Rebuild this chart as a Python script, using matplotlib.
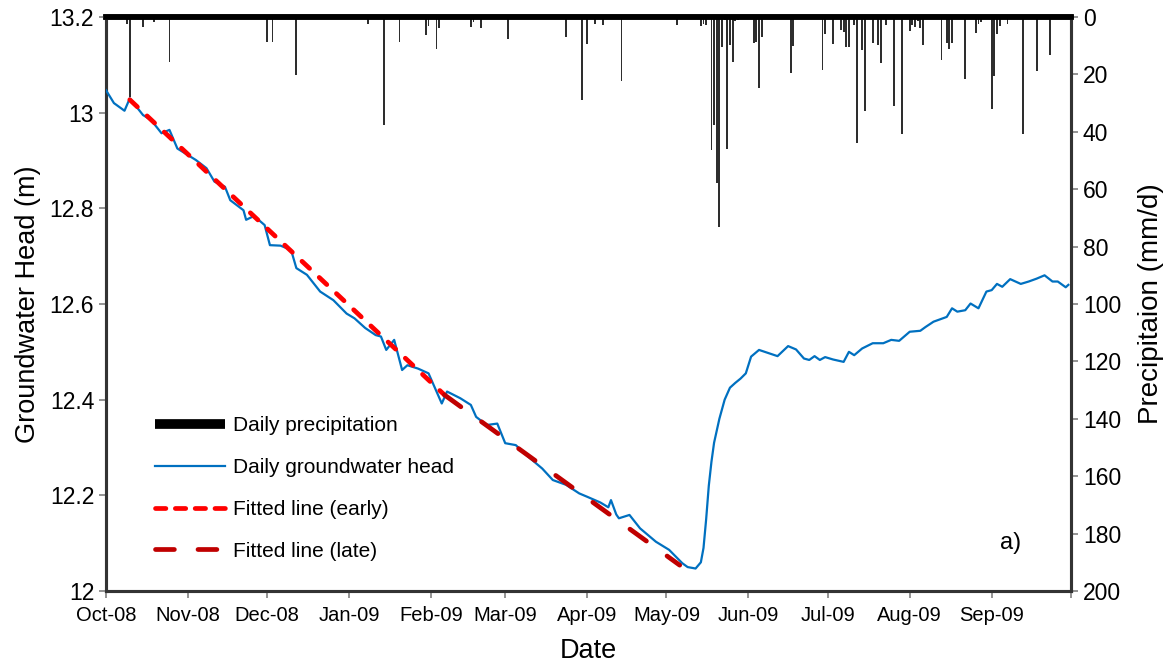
import numpy as np
import pandas as pd
import matplotlib
matplotlib.use("Agg")
import matplotlib.pyplot as plt
from matplotlib.lines import Line2D

plt.rcParams['font.family'] = ['Liberation Sans', 'DejaVu Sans']

START = pd.Timestamp('2008-10-01')

# groundwater head (days after 2008-10-01, metres)
head_day = [0, 3, 7, 9, 14, 17, 21, 24, 27, 34, 38, 41, 45, 47, 52, 53, 56, 60,
            62, 66, 70, 72, 76, 81, 86, 91, 94, 98, 102, 104, 106, 109, 112,
            114, 118, 122, 127, 129, 134, 138, 140, 144, 148, 151, 155, 159,
            165, 169, 174, 179, 182, 187, 190, 191, 193, 194, 198, 202, 208,
            213, 218, 220, 223, 225, 226, 227, 228, 229, 230, 232, 234, 236,
            238, 240, 242, 244, 247, 254, 258, 261, 264, 266, 268, 270, 272,
            275, 279, 281, 283, 286, 290, 294, 297, 300, 304, 308, 310, 313,
            318, 320, 322, 325, 327, 330, 333, 335, 337, 339, 342, 346, 349,
            352, 355, 358, 360, 363, 364]
head_m = [13.047, 13.02, 13.004, 13.03, 12.995, 12.985, 12.957, 12.964, 12.925,
          12.901, 12.884, 12.856, 12.845, 12.817, 12.796, 12.776, 12.784,
          12.765, 12.723, 12.722, 12.713, 12.675, 12.661, 12.626, 12.608,
          12.58, 12.57, 12.55, 12.535, 12.532, 12.504, 12.525, 12.462, 12.472,
          12.465, 12.455, 12.392, 12.417, 12.403, 12.389, 12.364, 12.347,
          12.35, 12.309, 12.305, 12.284, 12.256, 12.232, 12.222, 12.204,
          12.197, 12.185, 12.175, 12.19, 12.16, 12.152, 12.159, 12.131,
          12.103, 12.086, 12.058, 12.05, 12.047, 12.06, 12.09, 12.15, 12.22,
          12.27, 12.31, 12.36, 12.40, 12.425, 12.435, 12.444, 12.455, 12.49,
          12.504, 12.491, 12.512, 12.505, 12.486, 12.483, 12.491, 12.483,
          12.489, 12.484, 12.479, 12.5, 12.493, 12.507, 12.518, 12.518,
          12.525, 12.523, 12.542, 12.544, 12.552, 12.563, 12.573, 12.591,
          12.584, 12.587, 12.601, 12.591, 12.626, 12.629, 12.642, 12.636,
          12.652, 12.642, 12.647, 12.653, 12.66, 12.647, 12.647, 12.635, 12.64]

# daily precipitation (days after 2008-10-01, mm/d)
rain_day = [8, 9, 10, 14, 18, 24, 25, 61, 63, 67, 72, 99, 105, 111, 121, 122,
            125, 126, 138, 139, 142, 152, 174, 180, 182, 185, 188, 195, 216,
            225, 226, 227, 229, 230, 231, 232, 233, 234, 235, 236, 237, 238,
            239, 245, 246, 247, 248, 256, 259, 260, 271, 272, 275, 278, 279,
            280, 281, 283, 284, 285, 286, 287, 290, 292, 293, 295, 298, 301,
            304, 305, 306, 307, 308, 309, 316, 318, 319, 320, 325, 329, 330,
            331, 335, 336, 337, 338, 341, 347, 352, 357, 361]
rain_mm = [2.4, 28, 0.8, 3.6, 1.6, 15.6, 0.8, 8.8, 8.8, 0.5, 20.2, 2.4, 37.6,
           8.8, 6.3, 3.1, 11.3, 4, 3.4, 1.6, 3.7, 7.5, 6.9, 28.9, 9.5, 2.4,
           2.7, 22.2, 2.8, 3.1, 2.3, 2.8, 46.3, 37.6, 58, 73, 10.6, 1, 46.1,
           9.8, 15.6, 1.4, 1, 8.9, 8.6, 24.6, 6.9, 0.5, 19.4, 10, 18.5, 6,
           9.5, 4.5, 5.1, 10.3, 10.3, 2.8, 44, 0.5, 11.5, 32.6, 8.9, 9.8,
           16.1, 2.8, 30.9, 40.9, 4.9, 2.8, 3.4, 1.4, 3.7, 9.8, 15, 8.9, 11.3,
           8.9, 21.6, 5.5, 2.4, 1.6, 32.2, 20.4, 6, 3.1, 2.3, 40.9, 18.7,
           13.2, 0.5]

# fitted recession lines (end points)
fit_early_day = [9, 128]
fit_early_m = [13.027, 12.41]
fit_late_day = [128, 217]
fit_late_m = [12.41, 12.054]

month_labels = ['Oct-08', 'Nov-08', 'Dec-08', 'Jan-09', 'Feb-09', 'Mar-09',
                'Apr-09', 'May-09', 'Jun-09', 'Jul-09', 'Aug-09', 'Sep-09', '']


def to_dates(days):
    return START + pd.to_timedelta(days, unit='D')


fig = plt.figure(figsize=(11.66, 6.66), dpi=100)
ax = fig.add_axes([106 / 1166, 75 / 666, 965 / 1166, 574 / 666])
ax2 = ax.twinx()

# precipitation hanging from the top
ax2.bar(to_dates(rain_day), rain_mm, width=0.7, color='#2e2e2e',
        align='center', zorder=2)
ax2.set_ylim(200, 0)
ax2.set_yticks(np.arange(0, 201, 20))

ax.set_zorder(ax2.get_zorder() + 1)
ax.patch.set_visible(False)

ax.plot(to_dates(head_day), head_m, color='#0070C0', lw=1.6, zorder=3)
ax.plot(to_dates(fit_early_day), fit_early_m, color='#FF0000', lw=3.4,
        dashes=(2.2, 2.8), dash_capstyle='round', zorder=4)
ax.plot(to_dates(fit_late_day), fit_late_m, color='#C00000', lw=3.4,
        dashes=(4.3, 5.4), dash_capstyle='round', zorder=4)

ax.set_ylim(12, 13.2)
ax.set_yticks(np.arange(12, 13.21, 0.2))
ax.set_yticklabels(['12', '12.2', '12.4', '12.6', '12.8', '13', '13.2'])
ax.set_xlim(START, pd.Timestamp('2009-10-01'))
ticks = pd.date_range('2008-10-01', '2009-10-01', freq='MS')
ax.set_xticks(ticks)
ax.set_xticklabels(month_labels)

for a in (ax, ax2):
    a.tick_params(length=5, width=1.2, color='#808080', direction='out')
    a.tick_params(axis='y', labelsize=16.5)
    for s in a.spines.values():
        s.set_color('#333333')
        s.set_linewidth(2.2)
    a.spines['top'].set_color('black')
    a.spines['top'].set_linewidth(4)
ax.tick_params(axis='x', labelsize=14.5, pad=6)

ax.set_xlabel('Date', fontsize=19.5, labelpad=9)
ax.set_ylabel('Groundwater Head (m)', fontsize=19.5, labelpad=6)
ax2.set_ylabel('Precipitaion (mm/d)', fontsize=20, labelpad=12)

ax.text(1000, 666 - 543, 'a)', transform=None, fontsize=17, va='center')

handles = [
    Line2D([], [], color='black', lw=7, solid_capstyle='butt'),
    Line2D([], [], color='#0070C0', lw=1.6),
    Line2D([], [], color='#FF0000', lw=3.4, dashes=(2.2, 2.0),
           dash_capstyle='round'),
    Line2D([], [], color='#C00000', lw=3.4, dashes=(4.0, 5.0),
           dash_capstyle='round'),
]
labels = ['Daily precipitation', 'Daily groundwater head',
          'Fitted line (early)', 'Fitted line (late)']
ax.legend(handles, labels, loc='upper left',
          bbox_to_anchor=(155 / 1166, 1 - 416 / 666),
          bbox_transform=fig.transFigure, frameon=False, fontsize=15,
          handlelength=3.35, handletextpad=0.4, labelspacing=1.1,
          borderpad=0, borderaxespad=0)

fig.savefig('out.png', dpi=100)
